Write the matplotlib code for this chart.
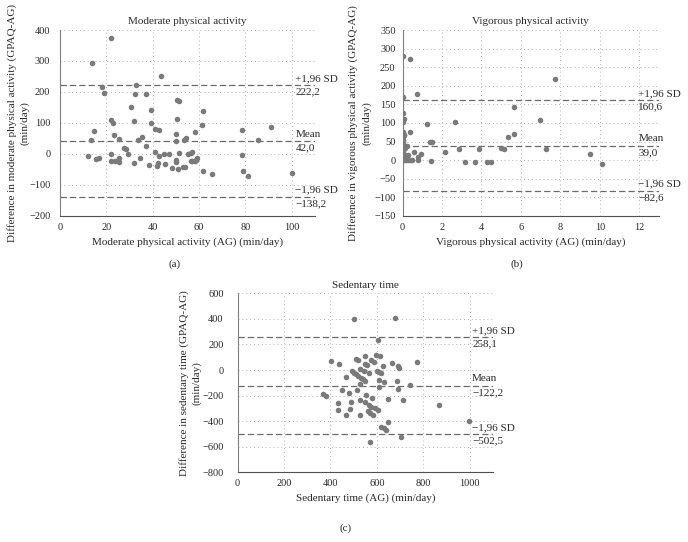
import matplotlib
matplotlib.use("Agg")
import matplotlib.pyplot as plt

plt.rcParams["font.family"] = ["Liberation Serif", "DejaVu Serif"]
plt.rcParams["font.size"] = 8

# (a) Moderate physical activity
mod_x = [21.9, 13.9, 43.4, 18.0, 19.0, 32.8, 32.5, 37.1, 30.7, 39.1, 50.5, 51.5,
         61.6, 21.9, 22.8, 31.9, 39.1, 50.6, 61.3, 14.7, 13.4, 23.4, 25.5, 33.5,
         35.2, 40.8, 42.6, 50.1, 50.1, 53.4, 54.4, 58.1, 12.1, 15.6, 16.8, 21.8,
         22.1, 23.8, 25.5, 25.5, 27.4, 28.4, 29.3, 32.0, 34.6, 37.1, 38.2, 41.0,
         41.7, 42.2, 42.9, 44.9, 46.9, 45.5, 48.1, 50.1, 51.0, 53.0, 53.8, 51.2,
         55.3, 56.4, 56.7, 58.4, 59.0, 61.8, 65.4, 78.6, 90.9, 85.4, 78.4, 79.1,
         81.1, 100.0, 50.1, 57.0, 58.5, 57.0]
mod_y = [373, 295, 252, 216, 196, 224, 192, 193, 151, 141, 174, 172,
         140, 109, 100, 105, 100, 113, 95, 75, 46, 62, 49, 44,
         56, 81, 78, 63, 41, 46, 50, 70, -6, -16, -12, 0,
         -22, -22, -13, -25, 19, 17, 0, -29, -13, 25, -37, 6,
         -38, -29, -8, 1, 0, -32, -45, -18, -49, -42, -42, 3,
         -1, 4, -24, -24, -14, -54, -65, 78, 86, 44, -4, -56,
         -70, -62, -27, 5, -20, -24]
mod_lines = [222.2, 42.0, -138.2]
mod_labels = [("+1,96 SD", "222,2"), ("Mean", "42,0"), ("\u22121,96 SD", "\u2212138,2")]

# (b) Vigorous physical activity
vig_x = [0, 0, 0, 0, 0.1, 0, 0, 0, 0, 0, 0, 0, 0, 0.1, 0.2, 0.3, 0.4, 0.5,
         0.37, 0.76, 0.07, 0.37, 0.1, 0.25, 0.13, 1.26, 2.66, 1.38, 1.48, 0.96,
         0.57, 0.77, 0.77, 1.46, 2.17, 2.86, 3.18, 3.67, 3.87, 4.28, 4.48, 4.97,
         5.15, 5.37, 5.67, 5.67, 6.97, 7.27, 7.71, 9.5, 10.1,
         0.15, 0.2, 0.3, 0.05, 0, 0]
vig_y = [280, 170, 127, 103, 110, 76, 71, 62, 54, 36, 31, 25, 0, 0, 0, 0, 0, 0,
         271, 179, 69, 75, 68, 38, 33, 96, 104, 50, 50, 16,
         21, 9, 0, -2, 23, 31, -4, -4, 30, -4, -4, 33,
         29, 62, 71, 143, 107, 30, 217, 17, -10,
         15, 8, 15, 20, 45, 15]
vig_lines = [160.6, 39.0, -82.6]
vig_labels = [("+1,96 SD", "160,6"), ("Mean", "39,0"), ("\u22121,96 SD", "\u221282,6")]

# (c) Sedentary time
sed_x = [503, 676, 604, 403, 436, 511, 519, 550, 576, 586, 597, 614, 626, 550,
         557, 529, 543, 564, 600, 610, 619, 664, 689, 697, 774, 469, 493, 501,
         510, 520, 531, 540, 547, 529, 611, 629, 686, 611, 689, 743, 450, 479,
         514, 367, 379, 554, 579, 529, 646, 711, 490, 434, 550, 564, 576, 590,
         603, 434, 486, 561, 571, 583, 469, 529, 646, 617, 629, 640, 869, 997,
         704, 572]
sed_y = [400, 405, 235, 73, 47, 86, 78, 107, 81, 65, 120, 107, 34, 47,
         39, 8, -10, -26, -5, -13, -26, 55, 29, 16, 63, -52, -10, -21,
         -34, -47, -60, -73, -84, -110, -76, -94, -89, -136, -152, -118, -154, -180,
         -157, -188, -204, -196, -222, -235, -230, -235, -254, -256, -248, -272, -293, -300,
         -311, -316, -306, -324, -340, -350, -353, -353, -408, -444, -457, -468, -274, -398,
         -525, -563]
sed_lines = [258.1, -122.2, -502.5]
sed_labels = [("+1,96 SD", "258,1"), ("Mean", "\u2212122,2"), ("\u22121,96 SD", "\u2212502,5")]

W, H = 688, 542
fig = plt.figure(figsize=(W / 100, H / 100), dpi=100)

dot_col = "#7a7a7a"
line_col = "#6a6a6a"
txt_col = "#2a2a2a"


def panel(rect, xs, ys, lines, labels, xlim, ylim, xticks, yticks, lab_x,
          title, xlabel, ylabel, ylab_off, ypad):
    ax = fig.add_axes(rect)
    ax.scatter(xs, ys, s=16, color=dot_col, zorder=3, linewidths=0)
    for v, (top, bot) in zip(lines, labels):
        ax.axhline(v, color=line_col, linestyle=(0, (5, 2.5)), linewidth=0.9, zorder=2)
        ax.text(lab_x, v + (ylim[1] - ylim[0]) * 0.012, top, ha="left", va="bottom",
                color=txt_col, fontsize=8)
        ax.text(lab_x, v - (ylim[1] - ylim[0]) * 0.012, bot, ha="left", va="top",
                color=txt_col, fontsize=8)
    ax.set_xlim(*xlim)
    ax.set_ylim(*ylim)
    ax.set_xticks(xticks)
    ax.set_yticks(yticks)
    ax.grid(True, color="#b0b0b0", linestyle=(0, (1, 3)), linewidth=0.7)
    ax.set_axisbelow(True)
    for s in ["top", "right"]:
        ax.spines[s].set_visible(False)
    ax.spines["left"].set_color("#808080")
    ax.spines["bottom"].set_color("#505050")
    ax.tick_params(axis="y", length=0, pad=ypad, labelsize=7.5, colors=txt_col)
    ax.tick_params(axis="x", length=0, pad=5, labelsize=7.5, colors=txt_col)
    ax.set_title(title, fontsize=8, color=txt_col, pad=4)
    ax.set_xlabel(xlabel, fontsize=8, color=txt_col, labelpad=4)
    ax.set_ylabel(ylabel, fontsize=8, color=txt_col, linespacing=1.5)
    ax.yaxis.set_label_coords(ylab_off, 0.5)
    return ax


panel([60 / W, 1 - 216 / H, 255 / W, 186 / H], mod_x, mod_y, mod_lines, mod_labels,
      (0, 110), (-200, 400), range(0, 101, 20), range(-200, 401, 100), 101.5,
      "Moderate physical activity", "Moderate physical activity (AG) (min/day)",
      "Difference in moderate physical activity (GPAQ-AG)\n(min/day)", -0.118, 7)

panel([402.5 / W, 1 - 216 / H, 256.5 / W, 186 / H], vig_x, vig_y, vig_lines, vig_labels,
      (0, 13), (-150, 350), range(0, 13, 2), range(-150, 351, 50), 11.95,
      "Vigorous physical activity", "Vigorous physical activity (AG) (min/day)",
      "Difference in vigorous physical activity (GPAQ-AG)\n(min/day)", -0.12, 5)

panel([237.6 / W, 1 - 472.3 / H, 255.4 / W, 179 / H], sed_x, sed_y, sed_lines, sed_labels,
      (0, 1100), (-800, 600), range(0, 1001, 200), range(-800, 601, 200), 1010,
      "Sedentary time", "Sedentary time (AG) (min/day)",
      "Difference in sedentary time (GPAQ-AG)\n(min/day)", -0.14, 10)

fig.text(175 / W, 1 - 264 / H, "(a)", ha="center", va="center", fontsize=8, color=txt_col)
fig.text(517 / W, 1 - 264 / H, "(b)", ha="center", va="center", fontsize=8, color=txt_col)
fig.text(346 / W, 1 - 528 / H, "(c)", ha="center", va="center", fontsize=8, color=txt_col)

fig.savefig("out.png", dpi=100)
